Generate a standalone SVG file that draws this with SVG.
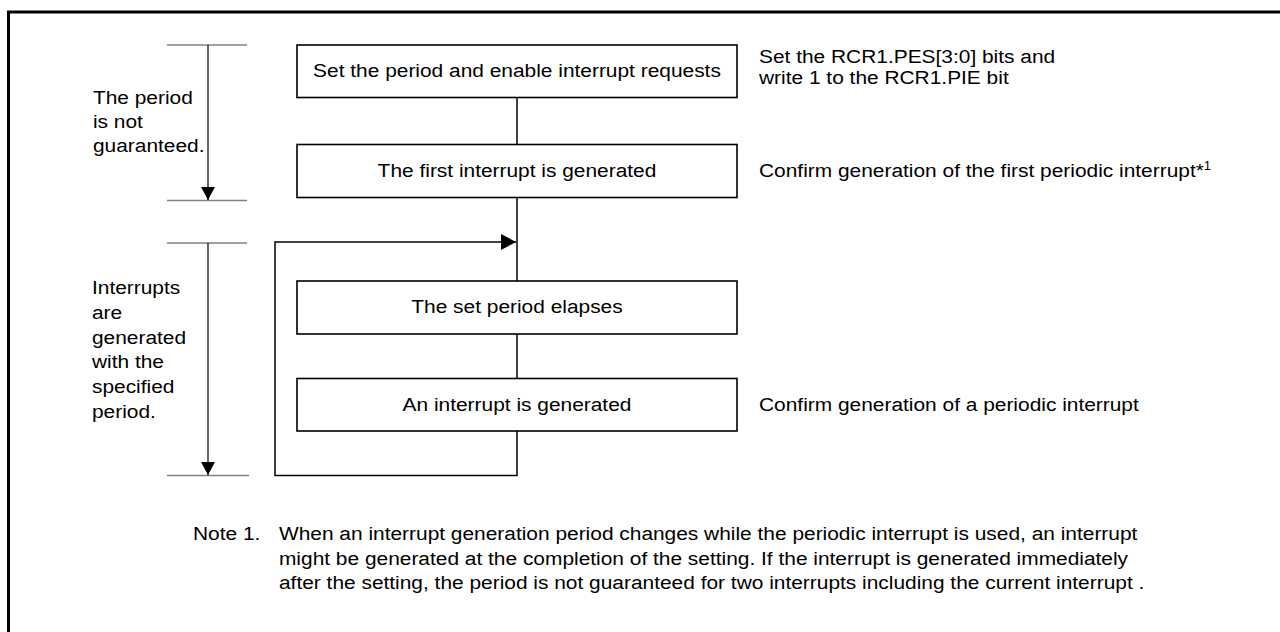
<svg xmlns="http://www.w3.org/2000/svg" width="1280" height="632" viewBox="0 0 1280 632">
<defs>
<style>
text{font-family:"Liberation Sans",Arial,sans-serif;font-size:19px;fill:#000}
.c{text-anchor:middle}
.box{fill:#fff;stroke:#000;stroke-width:1.6}
.ln{fill:none;stroke:#000;stroke-width:1.5}
.tick{stroke:#808080;stroke-width:1.4}
.dim{stroke:#000;stroke-width:1.2;fill:none}
</style>
<marker id="ah" markerUnits="userSpaceOnUse" markerWidth="16" markerHeight="18" refX="15" refY="8" orient="auto">
<path d="M0,0 L15,8 L0,16 Z" fill="#000"/>
</marker>
<marker id="ad" markerUnits="userSpaceOnUse" markerWidth="14" markerHeight="16" refX="13" refY="7" orient="auto">
<path d="M0,0 L13,7 L0,14 Z" fill="#000"/>
</marker>
</defs>
<rect width="1280" height="632" fill="#fff"/>
<path d="M8.5,640 V12 H1290" fill="none" stroke="#000" stroke-width="3"/>

<g id="bracket-not-guaranteed">
<line class="tick" x1="167" y1="45" x2="247" y2="45"/>
<line class="tick" x1="167" y1="200.5" x2="247" y2="200.5"/>
<line class="dim" x1="208" y1="45" x2="208" y2="200" marker-end="url(#ad)"/>
<g transform="scale(1.1,1)">
<text x="84.5" y="104">The period</text>
<text x="84.5" y="128">is not</text>
<text x="84.5" y="152">guaranteed.</text>
</g>
</g>

<g id="bracket-specified">
<line class="tick" x1="167" y1="243" x2="247" y2="243"/>
<line class="tick" x1="167" y1="475.5" x2="249" y2="475.5"/>
<line class="dim" x1="208" y1="243" x2="208" y2="475" marker-end="url(#ad)"/>
<g transform="scale(1.1,1)">
<text x="83.6" y="294">Interrupts</text>
<text x="83.6" y="318.8">are</text>
<text x="83.6" y="343.6">generated</text>
<text x="83.6" y="368.4">with the</text>
<text x="83.6" y="393.2">specified</text>
<text x="83.6" y="418">period.</text>
</g>
</g>

<g id="connectors">
<line class="ln" x1="517" y1="97.5" x2="517" y2="144.5"/>
<line class="ln" x1="517" y1="197.5" x2="517" y2="281"/>
<line class="ln" x1="517" y1="334" x2="517" y2="378.5"/>
<path class="ln" d="M517,431 V475.5 H275 V242 H516" marker-end="url(#ah)"/>
</g>

<g id="n1">
<rect class="box" x="297" y="45" width="440" height="52.5"/>
<text class="c" transform="scale(1.1,1)" x="470" y="77.3">Set the period and enable interrupt requests</text>
</g>
<g id="n2">
<rect class="box" x="297" y="144.5" width="440" height="53"/>
<text class="c" transform="scale(1.1,1)" x="470" y="177.5">The first interrupt is generated</text>
</g>
<g id="n3">
<rect class="box" x="297" y="281" width="440" height="53"/>
<text class="c" transform="scale(1.1,1)" x="470" y="313.5">The set period elapses</text>
</g>
<g id="n4">
<rect class="box" x="297" y="378.5" width="440" height="52.5"/>
<text class="c" transform="scale(1.1,1)" x="470" y="411">An interrupt is generated</text>
</g>

<g id="annotations" transform="scale(1.1,1)">
<text x="690" y="63">Set the RCR1.PES[3:0] bits and</text>
<text x="690" y="84.5">write 1 to the RCR1.PIE bit</text>
<text x="690" y="177.5">Confirm generation of the first periodic interrupt*<tspan font-size="12" dy="-7">1</tspan></text>
<text x="690" y="411">Confirm generation of a periodic interrupt</text>
</g>

<g id="note" transform="scale(1.1,1)">
<text x="175.5" y="540">Note 1.</text>
<text x="253.6" y="540">When an interrupt generation period changes while the periodic interrupt is used, an interrupt</text>
<text x="253.6" y="565">might be generated at the completion of the setting. If the interrupt is generated immediately</text>
<text x="253.6" y="589.5">after the setting, the period is not guaranteed for two interrupts including the current interrupt .</text>
</g>
</svg>
